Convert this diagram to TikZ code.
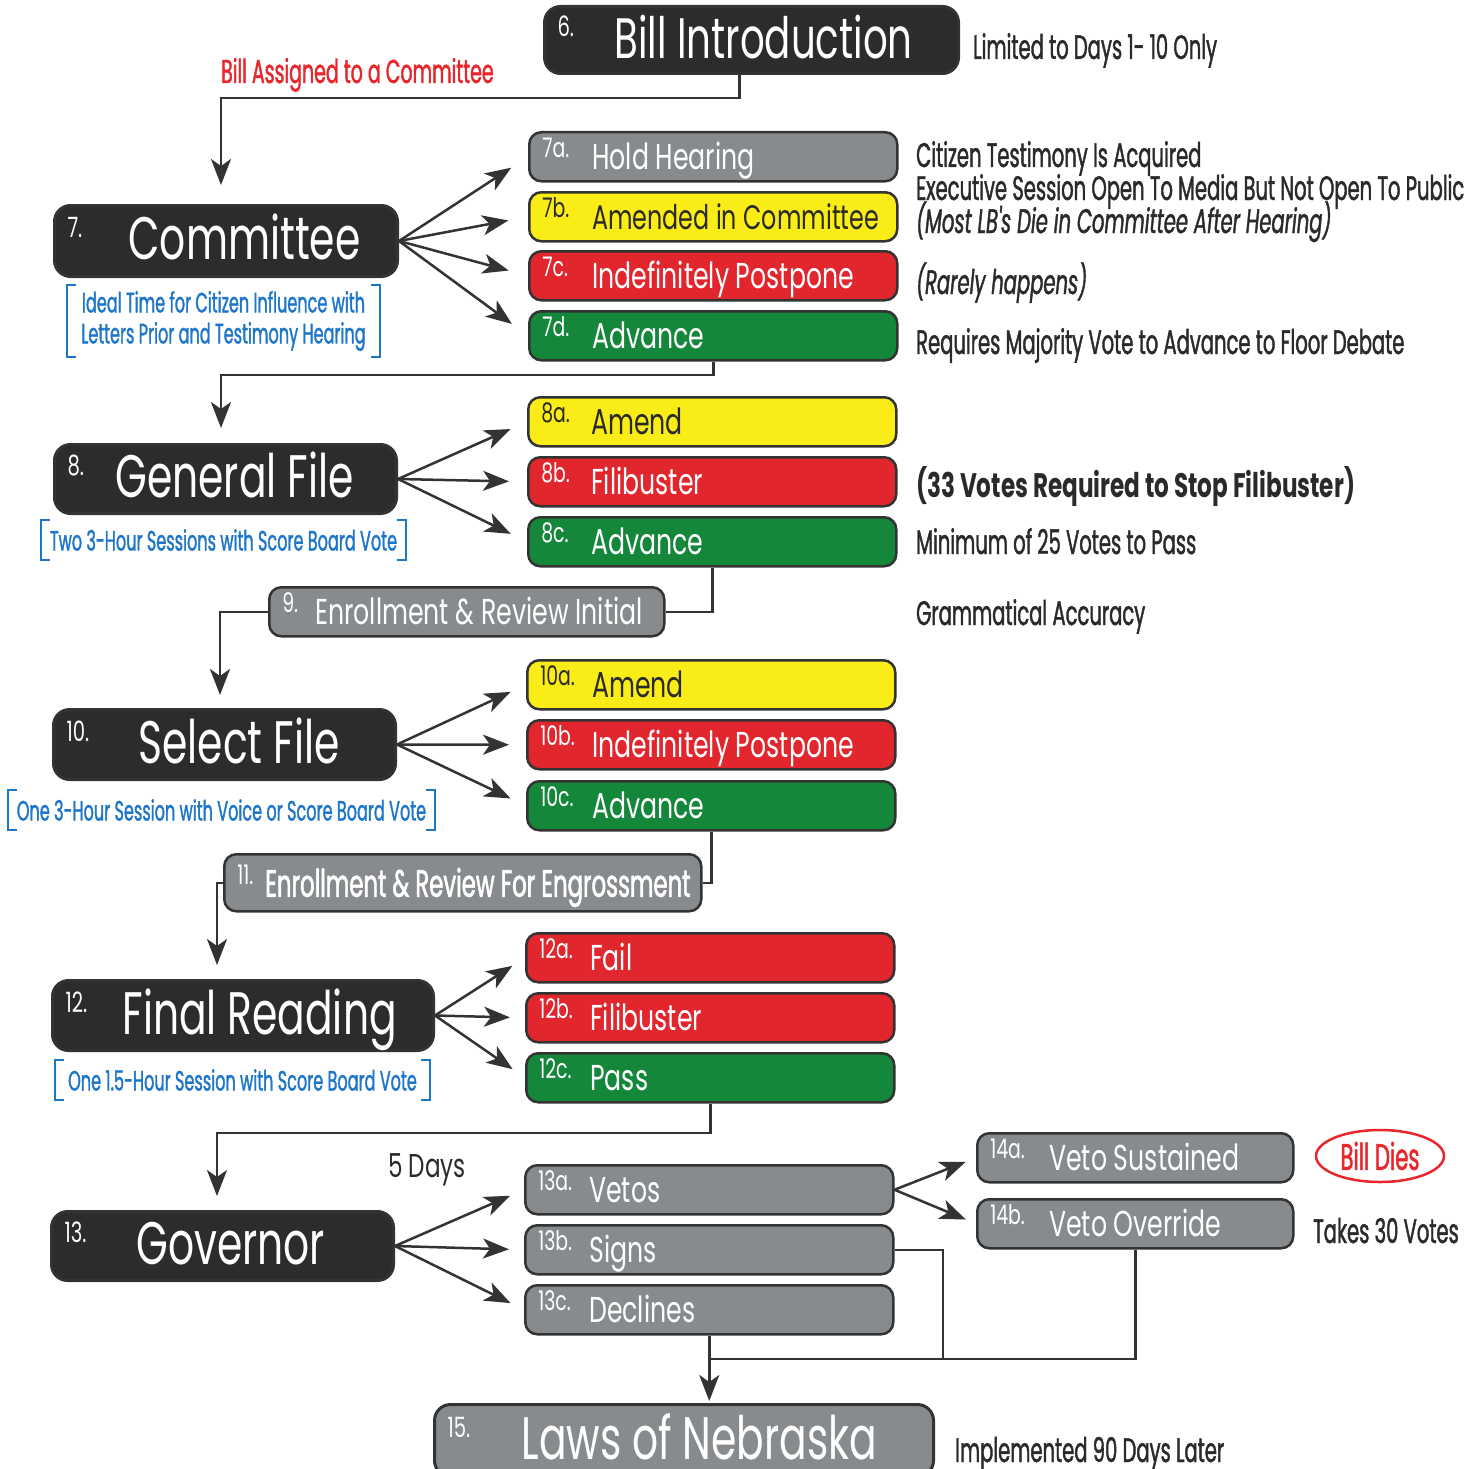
\documentclass[tikz,border=0pt]{standalone}
\usepackage{fontspec}
\usetikzlibrary{arrows.meta,shapes.geometric}
\newfontfamily\stagefont[FakeStretch=0.70]{Poppins}
\newfontfamily\bigfont[FakeStretch=0.68]{Poppins}
\newfontfamily\notefont[FakeStretch=0.575,FakeBold=1.2]{Poppins}
\newfontfamily\narrowfont[FakeStretch=0.60,FakeBold=1.5]{Poppins}
\newfontfamily\strongfont[FakeStretch=0.68]{Poppins}
\definecolor{stageblack}{HTML}{2D2B2B}
\definecolor{pickgray}{HTML}{878B8D}
\definecolor{pickyellow}{HTML}{FAEC16}
\definecolor{pickred}{HTML}{E2262E}
\definecolor{pickgreen}{HTML}{14873B}
\definecolor{edge}{HTML}{333333}
\definecolor{notegray}{HTML}{2A2A2A}
\definecolor{hintblue}{HTML}{1E76C8}
\definecolor{alertred}{HTML}{E8262B}
% number in front of a box text, kept on one line
\newcommand\stagetext[3]{\mbox{\makebox[#1][l]{\raisebox{22pt}{\stagefont\fontsize{28}{28}\selectfont #2}}#3}}
\newcommand\picktext[3]{\mbox{\makebox[#1][l]{\raisebox{12pt}{\stagefont\fontsize{27}{27}\selectfont #2}}#3}}
% square brackets round a blue note
\newcommand\bracketit[1]{%
  \draw[hintblue, line width=2pt] ([xshift=9pt]#1.north west) -- (#1.north west)
     -- (#1.south west) -- ([xshift=9pt]#1.south west);
  \draw[hintblue, line width=2pt] ([xshift=-9pt]#1.north east) -- (#1.north east)
     -- (#1.south east) -- ([xshift=-9pt]#1.south east);}
\tikzset{
  stage/.style={draw=edge, line width=3pt, rounded corners=16pt, fill=stageblack,
     text=white, anchor=north west, align=flush left, inner xsep=13pt, inner ysep=0pt,
     text height=44pt, text depth=7pt, font=\bigfont\fontsize{60}{60}\selectfont},
  pick/.style={draw=edge, line width=2.5pt, rounded corners=12pt, anchor=north west,
     align=flush left, inner xsep=13pt, inner ysep=0pt, text width=342pt, minimum height=49pt,
     text height=28pt, text depth=2pt, font=\stagefont\fontsize{36}{36}\selectfont},
  graypick/.style={pick, fill=pickgray, text=white},
  yellowpick/.style={pick, fill=pickyellow, text=notegray},
  redpick/.style={pick, fill=pickred, text=white},
  greenpick/.style={pick, fill=pickgreen, text=white},
  note/.style={anchor=base west, inner sep=0pt, text=notegray,
     font=\notefont\fontsize{34}{34}\selectfont},
  hint/.style={inner sep=0pt, align=center, text=hintblue,
     font=\notefont\fontsize{28}{31}\selectfont},
  flow/.style={draw=edge, line width=2.5pt, -{Stealth[length=26pt,width=20pt,inset=7pt]}},
  link/.style={draw=edge, line width=2.5pt},
}
\begin{document}
\begin{tikzpicture}[x=1pt,y=-1pt]
  \useasboundingbox (0,0) rectangle (1480,1469);

  % stage 6
  \node[stage, text width=388pt, minimum height=67pt, text height=42pt, text depth=5pt,
     font=\bigfont\fontsize{57}{57}\selectfont] (n6) at (543,5)
     {\stagetext{57pt}{6.}{Bill Introduction}};
  \node[note] (limit) at (973,59) {Limited to Days 1- 10 Only};
  \node[note, text=alertred, font=\notefont\fontsize{33}{33}\selectfont] (assign)
     at (221,83) {Bill Assigned to a Committee};

  % stage 7 : committee
  \node[stage, text width=317pt, minimum height=71pt] (n7) at (53,204)
     {\stagetext{61pt}{7.}{Committee}};
  \node[hint, minimum width=313pt, minimum height=72pt] (h7) at (223.5,321)
     {Ideal Time for Citizen Influence with\\Letters Prior and Testimony Hearing};
  \bracketit{h7}
  \node[graypick] (n7a) at (528,131) {\picktext{50pt}{7a.}{Hold Hearing}};
  \node[yellowpick, font=\stagefont\fontsize{34}{34}\selectfont] (n7b) at (528,191)
     {\picktext{50pt}{7b.}{Amended in Committee}};
  \node[redpick] (n7c) at (528,250) {\picktext{50pt}{7c.}{Indefinitely Postpone}};
  \node[greenpick] (n7d) at (528,310) {\picktext{50pt}{7d.}{Advance}};
  \node[note] (c7a) at (916,167) {Citizen Testimony Is Acquired};
  \node[note] (c7b) at (916,200) {Executive Session Open To Media But Not Open To Public};
  \node[note] (c7c) at (916,233) {\itshape (Most LB's Die in Committee After Hearing)};
  \node[note] (c7d) at (916,294) {\itshape (Rarely happens)};
  \node[note] (c7e) at (916,354) {Requires Majority Vote to Advance to Floor Debate};

  % stage 8 : general file
  \node[stage, text width=316pt, minimum height=69pt] (n8) at (53,443)
     {\stagetext{48pt}{8.}{General File}};
  \node[hint, minimum width=365pt, minimum height=40pt] (h8) at (223.5,540)
     {Two 3-Hour Sessions with Score Board Vote};
  \bracketit{h8}
  \node[yellowpick] (n8a) at (527,396) {\picktext{50pt}{8a.}{Amend}};
  \node[redpick] (n8b) at (527,456) {\picktext{50pt}{8b.}{Filibuster}};
  \node[greenpick] (n8c) at (527,516) {\picktext{50pt}{8c.}{Advance}};
  \node[note, font=\strongfont\bfseries\fontsize{34}{34}\selectfont] (c8b) at (916,497)
     {(33 Votes Required to Stop Filibuster)};
  \node[note] (c8c) at (916,554) {Minimum of 25 Votes to Pass};

  % stage 9
  \node[graypick, text width=369pt] (n9) at (268,586)
     {\picktext{33pt}{9.}{Enrollment \& Review Initial}};
  \node[note] (c9) at (916,625) {Grammatical Accuracy};

  % stage 10 : select file
  \node[stage, text width=316pt, minimum height=70pt] (n10) at (52,708)
     {\stagetext{72pt}{10.}{Select File}};
  \node[hint, minimum width=427pt, minimum height=40pt] (h10) at (221.5,810)
     {One 3-Hour Session with Voice or Score Board Vote};
  \bracketit{h10}
  \node[yellowpick] (n10a) at (526,659) {\picktext{52pt}{10a.}{Amend}};
  \node[redpick] (n10b) at (526,719) {\picktext{52pt}{10b.}{Indefinitely Postpone}};
  \node[greenpick] (n10c) at (526,780) {\picktext{52pt}{10c.}{Advance}};

  % stage 11
  \node[graypick, text width=451pt, minimum height=57pt, text height=30pt,
     font=\narrowfont\fontsize{38}{38}\selectfont] (n11) at (223,853)
     {\picktext{28pt}{11.}{Enrollment \& Review For Engrossment}};

  % stage 12 : final reading
  \node[stage, text width=355pt, minimum height=70pt] (n12) at (51,979)
     {\stagetext{57pt}{12.}{Final Reading}};
  \node[hint, minimum width=375pt, minimum height=40pt] (h12) at (242.5,1080)
     {One 1.5-Hour Session with Score Board Vote};
  \bracketit{h12}
  \node[redpick] (n12a) at (525,932) {\picktext{51pt}{12a.}{Fail}};
  \node[redpick] (n12b) at (525,992) {\picktext{51pt}{12b.}{Filibuster}};
  \node[greenpick] (n12c) at (525,1052) {\picktext{51pt}{12c.}{Pass}};

  % stage 13 : governor
  \node[stage, text width=316pt, minimum height=69pt] (n13) at (50,1210)
     {\stagetext{72pt}{13.}{Governor}};
  \node[note, font=\stagefont\fontsize{33}{33}\selectfont] (days) at (388,1177) {5 Days};
  \node[graypick] (n13a) at (524,1164) {\picktext{51pt}{13a.}{Vetos}};
  \node[graypick] (n13b) at (524,1224) {\picktext{51pt}{13b.}{Signs}};
  \node[graypick] (n13c) at (524,1284) {\picktext{51pt}{13c.}{Declines}};

  % stage 14
  \node[graypick, text width=290pt] (n14a) at (976,1132) {\picktext{59pt}{14a.}{Veto Sustained}};
  \node[graypick, text width=290pt] (n14b) at (976,1198) {\picktext{59pt}{14b.}{Veto Override}};
  \node[ellipse, draw=alertred, line width=2.5pt, minimum width=128pt, minimum height=52pt,
     inner sep=0pt, text=alertred, font=\notefont\fontsize{37}{37}\selectfont]
     (dies) at (1380,1156) {Bill Dies};
  \node[note] (c14b) at (1313,1243) {Takes 30 Votes};

  % stage 15
  \node[stage, text width=473pt, minimum height=72pt, fill=pickgray] (n15) at (433,1403)
     {\stagetext{74pt}{15.}{Laws of Nebraska}};
  \node[note] (c15) at (955,1462) {Implemented 90 Days Later};

  % connectors
  \coordinate (bend6) at (221,98);
  \coordinate (bend7) at (221,375);
  \coordinate (drop9) at (220,708);
  \coordinate (drop11) at (217,979);
  \coordinate (bend12) at (217,1133);
  \coordinate (join) at (943,1359);
  \draw[flow, shorten >=19pt] ([xshift=-12pt]n6.south) |- (bend6) -- (bend6 |- n7.north);
  \foreach \k in {a,b,c,d}
    \draw[flow, shorten >=20pt] (n7.east) -- (n7\k.west);
  \draw[flow, shorten >=15pt] (n7d.south) |- (bend7) -- (bend7 |- n8.north);
  \foreach \k in {a,b,c}
    \draw[flow, shorten >=18pt] (n8.east) -- (n8\k.west);
  \draw[link] (n8c.south) |- (n9.east);
  \draw[flow, shorten >=13pt] (n9.west) -| (drop9);
  \foreach \k in {a,b,c}
    \draw[flow, shorten >=17pt] (n10.east) -- (n10\k.west);
  \draw[link] (n10c.south) |- (n11.east);
  \draw[flow, shorten >=14pt] (n11.west) -| (drop11);
  \foreach \k in {a,b,c}
    \draw[flow, shorten >=15pt] (n12.east) -- (n12\k.west);
  \draw[flow, shorten >=14pt] (n12c.south) |- (bend12) -- (bend12 |- n13.north);
  \foreach \k in {a,b,c}
    \draw[flow, shorten >=15pt] (n13.east) -- (n13\k.west);
  \draw[flow, shorten >=11pt] (n13a.east) -- (n14a.west);
  \draw[flow, shorten >=11pt] (n13a.east) -- (n14b.west);
  \draw[link] (n13b.east) -| (join);
  \draw[link] (n14b.south) |- (n13c.south |- join);
  \draw[flow, shorten >=2pt] (n13c.south) -- (n13c.south |- n15.north);
\end{tikzpicture}
\end{document}
